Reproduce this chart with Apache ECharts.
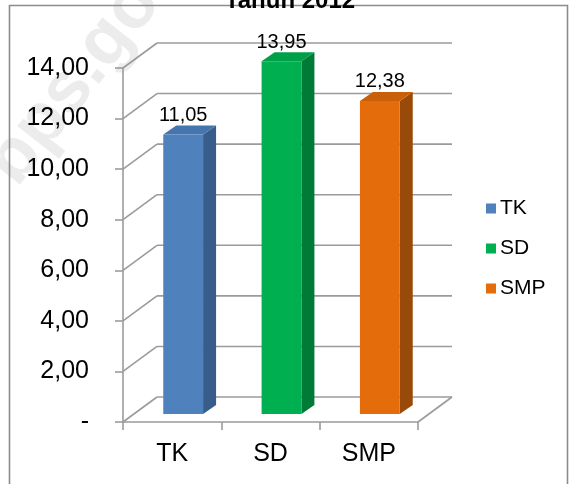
<!DOCTYPE html>
<html><head><meta charset="utf-8">
<script src="https://cdn.jsdelivr.net/npm/echarts@6/dist/echarts.min.js"></script>
<style>html,body{margin:0;padding:0;background:#fff}#c{width:572px;height:484px}</style>
</head><body><div id="c"></div>
<script>
const categories = ['TK', 'SD', 'SMP'];
const values = [11.05, 13.95, 12.38];
const valueLabels = ['11,05', '13,95', '12,38'];
const yTicks = [0, 2, 4, 6, 8, 10, 12, 14];
const yTickLabels = ['-', '2,00', '4,00', '6,00', '8,00', '10,00', '12,00', '14,00'];
const titleText = 'Tahun 2012';
const watermarkText = 'bps.go.id';

const frontColors = ['#4F81BD', '#00B050', '#E46C0A'];
const sideColors = ['#385D8A', '#007A37', '#9A4A08'];
const topColors = ['#4674AE', '#00A048', '#C95F09'];

const FONT = "'Liberation Sans', Arial, sans-serif";
const WALL_DX = 34, WALL_DY = -25;
const BAR_OX = 11, BAR_OY = -8;
const BAR_DX = 13, BAR_DY = -9;
const LINE = '#9b9b9b';

const chart = echarts.init(document.getElementById('c'), null, {renderer: 'canvas'});

function frameItem(params, api) {
  const cs = params.coordSys;
  const left = cs.x, right = cs.x + cs.width;
  const v = api.value(1);
  const y = api.coord([0, v])[1];
  const st = {stroke: LINE, lineWidth: 1.6};
  const children = [
    {type: 'line', shape: {x1: left, y1: y, x2: left + WALL_DX, y2: y + WALL_DY}, style: st},
    {type: 'line', shape: {x1: left + WALL_DX, y1: y + WALL_DY, x2: right + WALL_DX, y2: y + WALL_DY}, style: st}
  ];
  if (v === 0) {
    children.push({type: 'line', shape: {x1: right, y1: y, x2: right + WALL_DX, y2: y + WALL_DY}, style: st});
  }
  return {type: 'group', children: children};
}

function barItem(params, api) {
  const idx = api.value(0), v = api.value(1);
  const topP = api.coord([idx, v]);
  const baseP = api.coord([idx, 0]);
  const bw = api.size([1, 0])[0];
  const w = bw * 0.405;
  const cx = topP[0] + BAR_OX;
  const x0 = cx - w / 2, x1 = cx + w / 2;
  const yT = topP[1] + BAR_OY, yB = baseP[1] + BAR_OY;
  return {type: 'group', children: [
    {type: 'polygon', shape: {points: [[x1, yT], [x1 + BAR_DX, yT + BAR_DY], [x1 + BAR_DX, yB + BAR_DY], [x1, yB]]},
     style: {fill: sideColors[idx]}},
    {type: 'polygon', shape: {points: [[x0, yT], [x0 + BAR_DX, yT + BAR_DY], [x1 + BAR_DX, yT + BAR_DY], [x1, yT]]},
     style: {fill: topColors[idx]}},
    {type: 'rect', shape: {x: x0, y: yT, width: w, height: yB - yT}, style: {fill: frontColors[idx]}},
    {type: 'text', x: cx, y: yT - 19,
     style: {text: valueLabels[idx], fill: '#000', font: '20px ' + FONT, align: 'center', verticalAlign: 'middle'}}
  ]};
}

const series = [{
  type: 'custom', name: 'frame', silent: true, z: 1,
  data: yTicks.map(v => [0, v]),
  encode: {x: 0, y: 1},
  renderItem: frameItem
}];
categories.forEach((c, i) => {
  series.push({
    type: 'custom', name: c, z: 3,
    data: [[i, values[i]]],
    encode: {x: 0, y: 1},
    itemStyle: {color: frontColors[i]},
    renderItem: barItem
  });
});

chart.setOption({
  animation: false,
  backgroundColor: '#fff',
  color: frontColors,
  textStyle: {fontFamily: FONT},
  grid: {left: 123, right: 154, top: 68, bottom: 62, containLabel: false},
  xAxis: {
    type: 'category', data: categories,
    axisLine: {show: true, lineStyle: {color: LINE, width: 1.6}},
    axisTick: {show: true, length: 8, lineStyle: {color: LINE, width: 1.6}},
    axisLabel: {fontSize: 25, color: '#000', margin: 20, fontFamily: FONT},
    splitLine: {show: false}
  },
  yAxis: {
    type: 'value', min: 0, max: 14, interval: 2,
    axisLine: {show: true, lineStyle: {color: LINE, width: 1.6}},
    axisTick: {show: true, length: 8, lineStyle: {color: LINE, width: 1.6}},
    axisLabel: {fontSize: 25, color: '#000', margin: 34, fontFamily: FONT,
      formatter: v => yTickLabels[yTicks.indexOf(v)]},
    splitLine: {show: false}
  },
  legend: {
    data: categories, orient: 'vertical', left: 481, top: 193,
    icon: 'rect', itemWidth: 10, itemHeight: 10, itemGap: 19,
    textStyle: {fontSize: 21, color: '#000', fontFamily: FONT, padding: [0, 0, 0, -1]}
  },
  graphic: [
    {type: 'text', z: -10, silent: true, x: 100, y: 50, rotation: 0.907,
     style: {text: watermarkText, fill: '#ececec', font: 'bold 72px ' + FONT, align: 'center', verticalAlign: 'middle'}},
    {type: 'rect', z: 0, silent: true, shape: {x: 9.5, y: 5.5, width: 558, height: 520},
     style: {fill: 'none', stroke: '#8c8c8c', lineWidth: 1.6}},
    {type: 'text', z: 100, silent: true, x: 290, y: 13,
     style: {text: titleText, fill: '#000', font: 'bold 24px ' + FONT, align: 'center', verticalAlign: 'bottom'}}
  ],
  series: series
});
</script></body></html>
